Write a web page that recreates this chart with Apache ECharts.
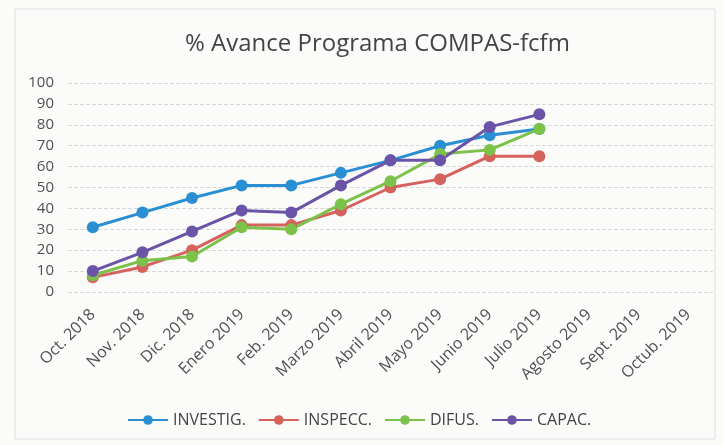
<!DOCTYPE html>
<html>
<head>
<meta charset="utf-8">
<script src="https://cdn.jsdelivr.net/npm/echarts@6/dist/echarts.min.js"></script>
<style>
  html, body { margin: 0; padding: 0; background: #fbfbfa; }
  #chart { width: 723px; height: 445px; }
</style>
</head>
<body>
<div id="chart"></div>
<script>
const months = ['Oct. 2018', 'Nov. 2018', 'Dic. 2018', 'Enero 2019', 'Feb. 2019', 'Marzo 2019',
  'Abril 2019', 'Mayo 2019', 'Junio 2019', 'Julio 2019', 'Agosto 2019', 'Sept. 2019', 'Octub. 2019'];
const investig = [31, 38, 45, 51, 51, 57, 63, 70, 75, 78];
const inspecc = [7, 12, 20, 32, 32, 39, 50, 54, 65, 65];
const difus = [8, 15, 17, 31, 30, 42, 53, 66, 68, 78];
const capac = [10, 19, 29, 39, 38, 51, 63, 63, 79, 85];

const chart = echarts.init(document.getElementById('chart'));

function line(name, data, color) {
  return {
    name: name,
    type: 'line',
    data: data,
    symbol: 'circle',
    symbolSize: 12,
    lineStyle: { width: 3, color: color },
    itemStyle: { color: color },
    z: 3
  };
}

chart.setOption({
  animation: false,
  backgroundColor: '#fbfbfa',
  title: {
    text: '% Avance Programa COMPAS-fcfm',
    left: 180,
    top: 27,
    textStyle: { fontFamily: 'Open Sans', fontSize: 24, fontWeight: 'normal', color: '#444' }
  },
  grid: { left: 68, right: 10, top: 83, bottom: 153 },
  xAxis: {
    type: 'category',
    data: months,
    axisLine: { show: false },
    axisTick: { show: false },
    axisLabel: { rotate: 45, interval: 0, margin: 20, color: '#505050', fontFamily: 'Open Sans', fontSize: 16 }
  },
  yAxis: {
    type: 'value',
    min: 0,
    max: 100,
    interval: 10,
    axisLabel: { color: '#505050', fontFamily: 'Open Sans', fontSize: 15, margin: 14 },
    splitLine: { lineStyle: { color: '#d8d8d8', type: 'dashed', width: 1 } }
  },
  legend: {
    top: 407,
    left: 122,
    itemWidth: 40,
    itemHeight: 12,
    itemGap: 12,
    textStyle: { fontFamily: 'Open Sans', fontSize: 16, color: '#444' },
    data: ['INVESTIG.', 'INSPECC.', 'DIFUS.', 'CAPAC.']
  },
  series: [
    line('INVESTIG.', investig, '#2a8fd2'),
    line('INSPECC.', inspecc, '#d5625c'),
    line('DIFUS.', difus, '#7cc24a'),
    line('CAPAC.', capac, '#6b54a8')
  ],
  graphic: [{
    type: 'rect',
    shape: { x: 15, y: 9, width: 700, height: 430 },
    style: { fill: 'none', stroke: '#e0e0e0', lineWidth: 1 },
    silent: true
  }]
});
</script>
</body>
</html>
